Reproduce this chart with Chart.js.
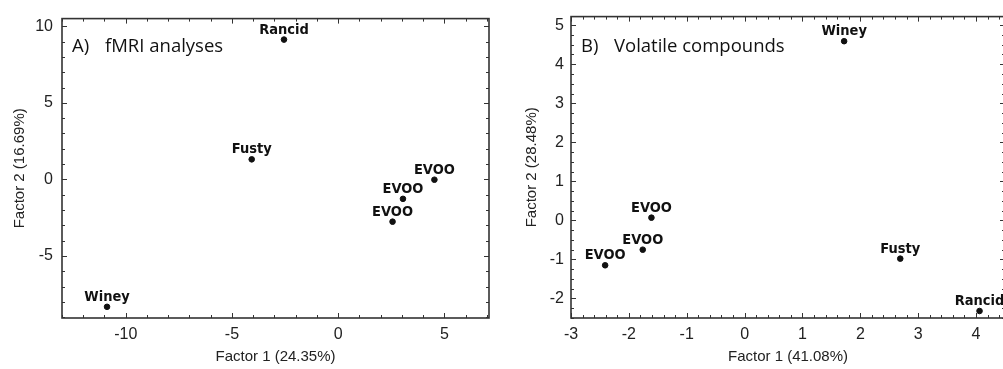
<!DOCTYPE html>
<html>
<head>
<meta charset="utf-8">
<script src="https://cdn.jsdelivr.net/npm/chart.js@4.4.1/dist/chart.umd.min.js"></script>
<style>
  html, body { margin: 0; padding: 0; background: #fff; overflow: hidden; }
  #wrap { position: relative; width: 1003px; height: 369px; overflow: hidden; }
  #chartA { position: absolute; left: 0; top: 0; }
  #chartB { position: absolute; left: 500px; top: 0; }
</style>
</head>
<body>
<div id="wrap">
  <canvas id="chartA" width="495" height="369"></canvas>
  <canvas id="chartB" width="510" height="369"></canvas>
</div>
<script>
// A) fMRI analyses
const aNames = ["Rancid", "Fusty", "EVOO", "EVOO", "EVOO", "Winey"];
const aX = [-2.55, -4.07, 4.53, 3.05, 2.56, -10.88];
const aY = [9.13, 1.31, -0.02, -1.27, -2.76, -8.32];
const aXTicks = [-10, -5, 0, 5];
const aYTicks = [-5, 0, 5, 10];

// B) Volatile compounds
const bNames = ["Winey", "EVOO", "EVOO", "EVOO", "Fusty", "Rancid"];
const bX = [1.72, -1.61, -1.76, -2.41, 2.69, 4.06];
const bY = [4.59, 0.07, -0.75, -1.15, -0.98, -2.32];
const bXTicks = [-3, -2, -1, 0, 1, 2, 3, 4];
const bYTicks = [-2, -1, 0, 1, 2, 3, 4, 5];

const ink = "#222";

// box, inward ticks, point names, panel title
const framePlugin = {
  id: "frame",
  afterDatasetsDraw(chart, args, opts) {
    const { ctx, chartArea: a, scales: { x, y } } = chart;
    ctx.save();
    ctx.strokeStyle = "#333";
    ctx.lineWidth = 1;
    ctx.beginPath();
    for (let i = Math.ceil(x.min / opts.xMinor); i * opts.xMinor <= x.max + 1e-9; i++) {
      const px = Math.round(x.getPixelForValue(i * opts.xMinor)) + 0.5;
      ctx.moveTo(px, a.top); ctx.lineTo(px, a.top + 3);
      ctx.moveTo(px, a.bottom); ctx.lineTo(px, a.bottom - 3);
    }
    for (let i = Math.ceil(y.min / opts.yMinor); i * opts.yMinor <= y.max + 1e-9; i++) {
      const py = Math.round(y.getPixelForValue(i * opts.yMinor)) + 0.5;
      ctx.moveTo(a.left, py); ctx.lineTo(a.left + 3, py);
      ctx.moveTo(a.right, py); ctx.lineTo(a.right - 3, py);
    }
    x.ticks.forEach(t => {
      const px = Math.round(x.getPixelForValue(t.value)) + 0.5;
      ctx.moveTo(px, a.top); ctx.lineTo(px, a.top + 5);
      ctx.moveTo(px, a.bottom); ctx.lineTo(px, a.bottom - 5);
    });
    y.ticks.forEach(t => {
      const py = Math.round(y.getPixelForValue(t.value)) + 0.5;
      ctx.moveTo(a.left, py); ctx.lineTo(a.left + 5, py);
      ctx.moveTo(a.right, py); ctx.lineTo(a.right - 5, py);
    });
    ctx.stroke();
    ctx.lineWidth = 1.6;
    ctx.strokeRect(a.left, a.top, a.right - a.left, a.bottom - a.top);

    // point names
    ctx.fillStyle = "#111";
    ctx.font = "bold 14.5px 'DejaVu Sans Condensed', 'DejaVu Sans'";
    ctx.textAlign = "center";
    ctx.textBaseline = "alphabetic";
    chart.getDatasetMeta(0).data.forEach((pt, i) => {
      ctx.fillText(opts.names[i], pt.x, pt.y - 6);
    });

    // panel title
    ctx.font = "18.5px 'Open Sans'";
    ctx.textAlign = "left";
    ctx.fillText(opts.tag, a.left + 10, 52);
    ctx.fillText(opts.title, a.left + 43, 52);
    ctx.restore();
  }
};

function scatter(id, names, xs, ys, xTicks, yTicks, s) {
  return new Chart(document.getElementById(id), {
    type: "scatter",
    data: {
      datasets: [{
        data: xs.map((v, i) => ({ x: v, y: ys[i] })),
        backgroundColor: "#111",
        borderColor: "#111",
        pointRadius: 2.8,
        pointHoverRadius: 2.8
      }]
    },
    options: {
      responsive: false,
      animation: false,
      events: [],
      layout: { padding: { top: 15, right: s.padRight, left: 0, bottom: 0 } },
      plugins: {
        legend: { display: false },
        tooltip: { enabled: false },
        frame: { names: names, tag: s.tag, title: s.title, xMinor: s.xMinor, yMinor: s.yMinor }
      },
      scales: {
        x: {
          type: "linear",
          min: s.xMin, max: s.xMax,
          afterBuildTicks: sc => { sc.ticks = xTicks.map(v => ({ value: v })); },
          afterFit: sc => { sc.height = 51; },
          grid: { display: true, drawOnChartArea: false, drawTicks: false },
          border: { display: false },
          ticks: { color: ink, padding: 7, font: { family: "'Liberation Sans'", size: 16 }, maxRotation: 0 },
          title: { display: true, text: s.xTitle, color: ink, padding: { top: 0, bottom: 3 },
                   font: { family: "'Liberation Sans'", size: 15 } }
        },
        y: {
          type: "linear",
          min: s.yMin, max: s.yMax,
          afterBuildTicks: sc => { sc.ticks = yTicks.map(v => ({ value: v })); },
          afterFit: sc => { sc.width = s.yWidth; },
          grid: { display: true, drawOnChartArea: false, drawTicks: false },
          border: { display: false },
          ticks: { color: ink, padding: s.yPad, font: { family: "'Liberation Sans'", size: 16 } },
          title: { display: true, text: s.yTitle, color: ink, padding: { top: s.yTitlePad, bottom: 0 },
                   font: { family: "'Liberation Sans'", size: 15 } }
        }
      }
    },
    plugins: [framePlugin]
  });
}

scatter("chartA", aNames, aX, aY, aXTicks, aYTicks, {
  tag: "A)", title: "fMRI analyses",
  xMin: -13, xMax: 7.1, yMin: -9.05, yMax: 10.5,
  xMinor: 1, yMinor: 1,
  padRight: 6, yWidth: 62, yPad: 9, yTitlePad: 11,
  xTitle: "Factor 1 (24.35%)", yTitle: "Factor 2 (16.69%)"
});

scatter("chartB", bNames, bX, bY, bXTicks, bYTicks, {
  tag: "B)", title: "Volatile compounds",
  xMin: -3, xMax: 4.5, yMin: -2.5, yMax: 5.22,
  xMinor: 0.2, yMinor: 0.25,
  padRight: 5, yWidth: 71, yPad: 7, yTitlePad: 23,
  xTitle: "Factor 1 (41.08%)", yTitle: "Factor 2 (28.48%)"
});
</script>
</body>
</html>
